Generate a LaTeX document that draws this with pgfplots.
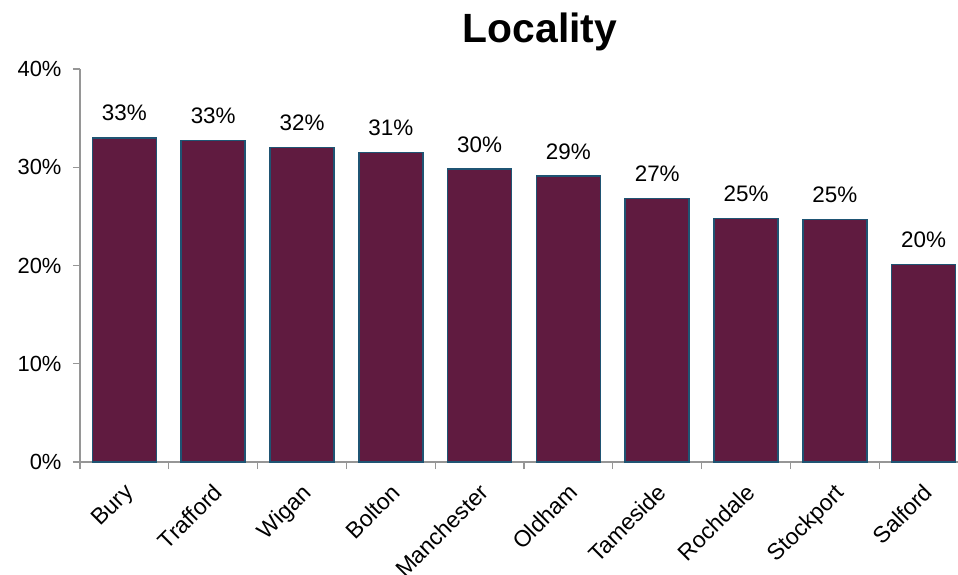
\documentclass[border=0pt]{standalone}
\usepackage{fontspec}
\setmainfont{Liberation Sans}
\usepackage{pgfplots}
\pgfplotsset{compat=1.18}
\definecolor{barfill}{RGB}{96,27,64}
\definecolor{baredge}{RGB}{31,84,115}
\definecolor{axisgray}{RGB}{150,150,150}
\begin{document}
\begin{tikzpicture}
\begin{axis}[
    name=ax,
    at={(0,0)}, anchor=south west,
    scale only axis,
    width=878bp, height=393bp,
    ybar, bar width=64bp, bar shift=0pt,
    xmin=-0.5, xmax=9.387,
    ymin=0, ymax=40,
    axis x line=bottom, axis y line=left,
    axis line style={-, draw=axisgray, line width=1.2bp},
    xtick={0,...,9},
    xticklabels={Bury,Trafford,Wigan,Bolton,Manchester,Oldham,Tameside,Rochdale,Stockport,Salford},
    major x tick style={draw=none},
    minor xtick={-0.5,0.5,...,9.5},
    minor tick length=7bp,
    ytick={0,10,...,40},
    yticklabel={\pgfmathprintnumber{\tick}\%},
    major tick length=7bp,
    tick align=outside,
    tick style={draw=axisgray, line width=1.2bp},
    /pgf/number format/assume math mode=true,
    ticklabel style={text=black},
    yticklabel style={font=\fontsize{22}{26}\selectfont, xshift=-8bp},
    xticklabel style={font=\fontsize{23}{27}\selectfont, rotate=45, anchor=north east, xshift=-7bp, yshift=-5bp},
    title={Locality},
    title style={at={(axis description cs:0.524,1)}, anchor=base, yshift=21bp,
                 font=\fontsize{41}{48}\selectfont\bfseries},
    nodes near coords,
    point meta=explicit symbolic,
    nodes near coords style={anchor=base, yshift=17bp, font=\fontsize{22.5}{26}\selectfont, text=black},
]
\addplot[fill=barfill, draw=baredge, line width=1.5bp] table[meta=lab] {
x y lab
0 33.0 33\%
1 32.7 33\%
2 32.0 32\%
3 31.5 31\%
4 29.8 30\%
5 29.1 29\%
6 26.8 27\%
7 24.8 25\%
8 24.7 25\%
9 20.1 20\%
};
\end{axis}
\pgfresetboundingbox
\path[use as bounding box] (-80bp,-113bp) rectangle (878bp,462bp);
\end{tikzpicture}
\end{document}
